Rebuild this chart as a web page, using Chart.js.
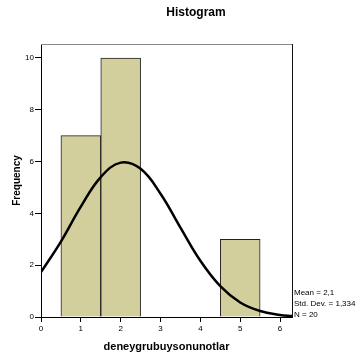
<!DOCTYPE html>
<html>
<head>
  <meta charset="UTF-8" />
  <title>Histogram</title>
  <script src="https://cdn.jsdelivr.net/npm/chart.js"></script>
  <style>
    html, body { margin: 0; padding: 0; background: #fff; }
    #wrap { width: 356px; height: 358px; }
  </style>
</head>
<body>
  <div id="wrap"><canvas id="hist"></canvas></div>

  <script>
    // histogram bins (centres) and counts
    const binCenters = [1, 2, 5];
    const binCounts = [7, 10, 3];

    // fitted normal curve
    const curveX = [0, 0.5, 1, 1.5, 2, 2.5, 3, 3.5, 4, 4.5, 5, 5.5, 6, 6.3];
    const curveY = [1.73, 2.91, 4.26, 5.40, 5.96, 5.72, 4.76, 3.45, 2.17, 1.19, 0.56, 0.23, 0.08, 0.04];

    const statLines = ['Mean = 2,1', 'Std. Dev. = 1,334', 'N = 20'];

    const font = "'Liberation Sans', Arial, sans-serif";
    const onlyInts = s => {
      s.ticks = s.ticks.filter(t => Number.isInteger(t.value) && t.value >= s.min && t.value <= s.max);
    };

    // title, frame and the stats box
    const extras = {
      id: 'extras',
      afterDraw(chart) {
        const { ctx, chartArea: a } = chart;
        ctx.save();
        ctx.lineWidth = 1;
        ctx.strokeStyle = '#888';
        ctx.beginPath();
        ctx.moveTo(a.left, a.top + 0.5);
        ctx.lineTo(a.right, a.top + 0.5);
        ctx.stroke();
        ctx.strokeStyle = '#111';
        ctx.beginPath();
        ctx.moveTo(a.right + 0.5, a.top);
        ctx.lineTo(a.right + 0.5, a.bottom);
        ctx.stroke();

        ctx.fillStyle = '#000';
        ctx.font = 'bold 12px ' + font;
        ctx.textAlign = 'center';
        ctx.textBaseline = 'middle';
        ctx.fillText('Histogram', 196, 13);

        ctx.font = '8px ' + font;
        ctx.textAlign = 'left';
        statLines.forEach((t, i) => ctx.fillText(t, a.right + 2, 293 + i * 11));
        ctx.restore();
      }
    };

    new Chart(document.getElementById('hist'), {
      data: {
        datasets: [
          {
            type: 'line',
            data: curveX.map((x, i) => ({ x, y: curveY[i] })),
            borderColor: '#000',
            borderWidth: 2.5,
            pointRadius: 0,
            tension: 0.4,
            order: 0
          },
          {
            type: 'bar',
            data: binCenters.map((x, i) => ({ x, y: binCounts[i] })),
            backgroundColor: '#d3cf9d',
            borderColor: '#222',
            borderWidth: 1,
            barPercentage: 1,
            categoryPercentage: 1,
            order: 1
          }
        ]
      },
      options: {
        responsive: true,
        maintainAspectRatio: false,
        animation: false,
        layout: { padding: { left: 0, right: 64, top: 44, bottom: 0 } },
        plugins: { legend: { display: false }, tooltip: { enabled: false } },
        scales: {
          x: {
            type: 'linear',
            min: 0,
            max: 6.3,
            offset: false,
            afterBuildTicks: onlyInts,
            afterFit: s => { s.height = 41; },
            ticks: { stepSize: 1, includeBounds: false, autoSkip: false, color: '#000', font: { family: font, size: 8 }, padding: 2, maxRotation: 0 },
            grid: { offset: false, drawOnChartArea: false, drawTicks: true, tickLength: 5, color: '#000' },
            border: { color: '#000', width: 1 },
            title: { display: true, text: 'deneygrubuysonunotlar', color: '#000', font: { family: font, size: 11, weight: 'bold' }, padding: { top: 0 } }
          },
          y: {
            min: 0,
            max: 10.54,
            afterBuildTicks: onlyInts,
            afterFit: s => { s.width = 41; },
            ticks: { stepSize: 2, includeBounds: false, color: '#000', font: { family: font, size: 8 }, padding: 1 },
            grid: { drawOnChartArea: false, drawTicks: true, tickLength: 6, color: '#000' },
            border: { color: '#000', width: 1 },
            title: { display: true, text: 'Frequency', color: '#000', font: { family: font, size: 10, weight: 'bold' }, padding: { top: 11, bottom: 0 } }
          }
        }
      },
      plugins: [extras]
    });
  </script>
</body>
</html>
